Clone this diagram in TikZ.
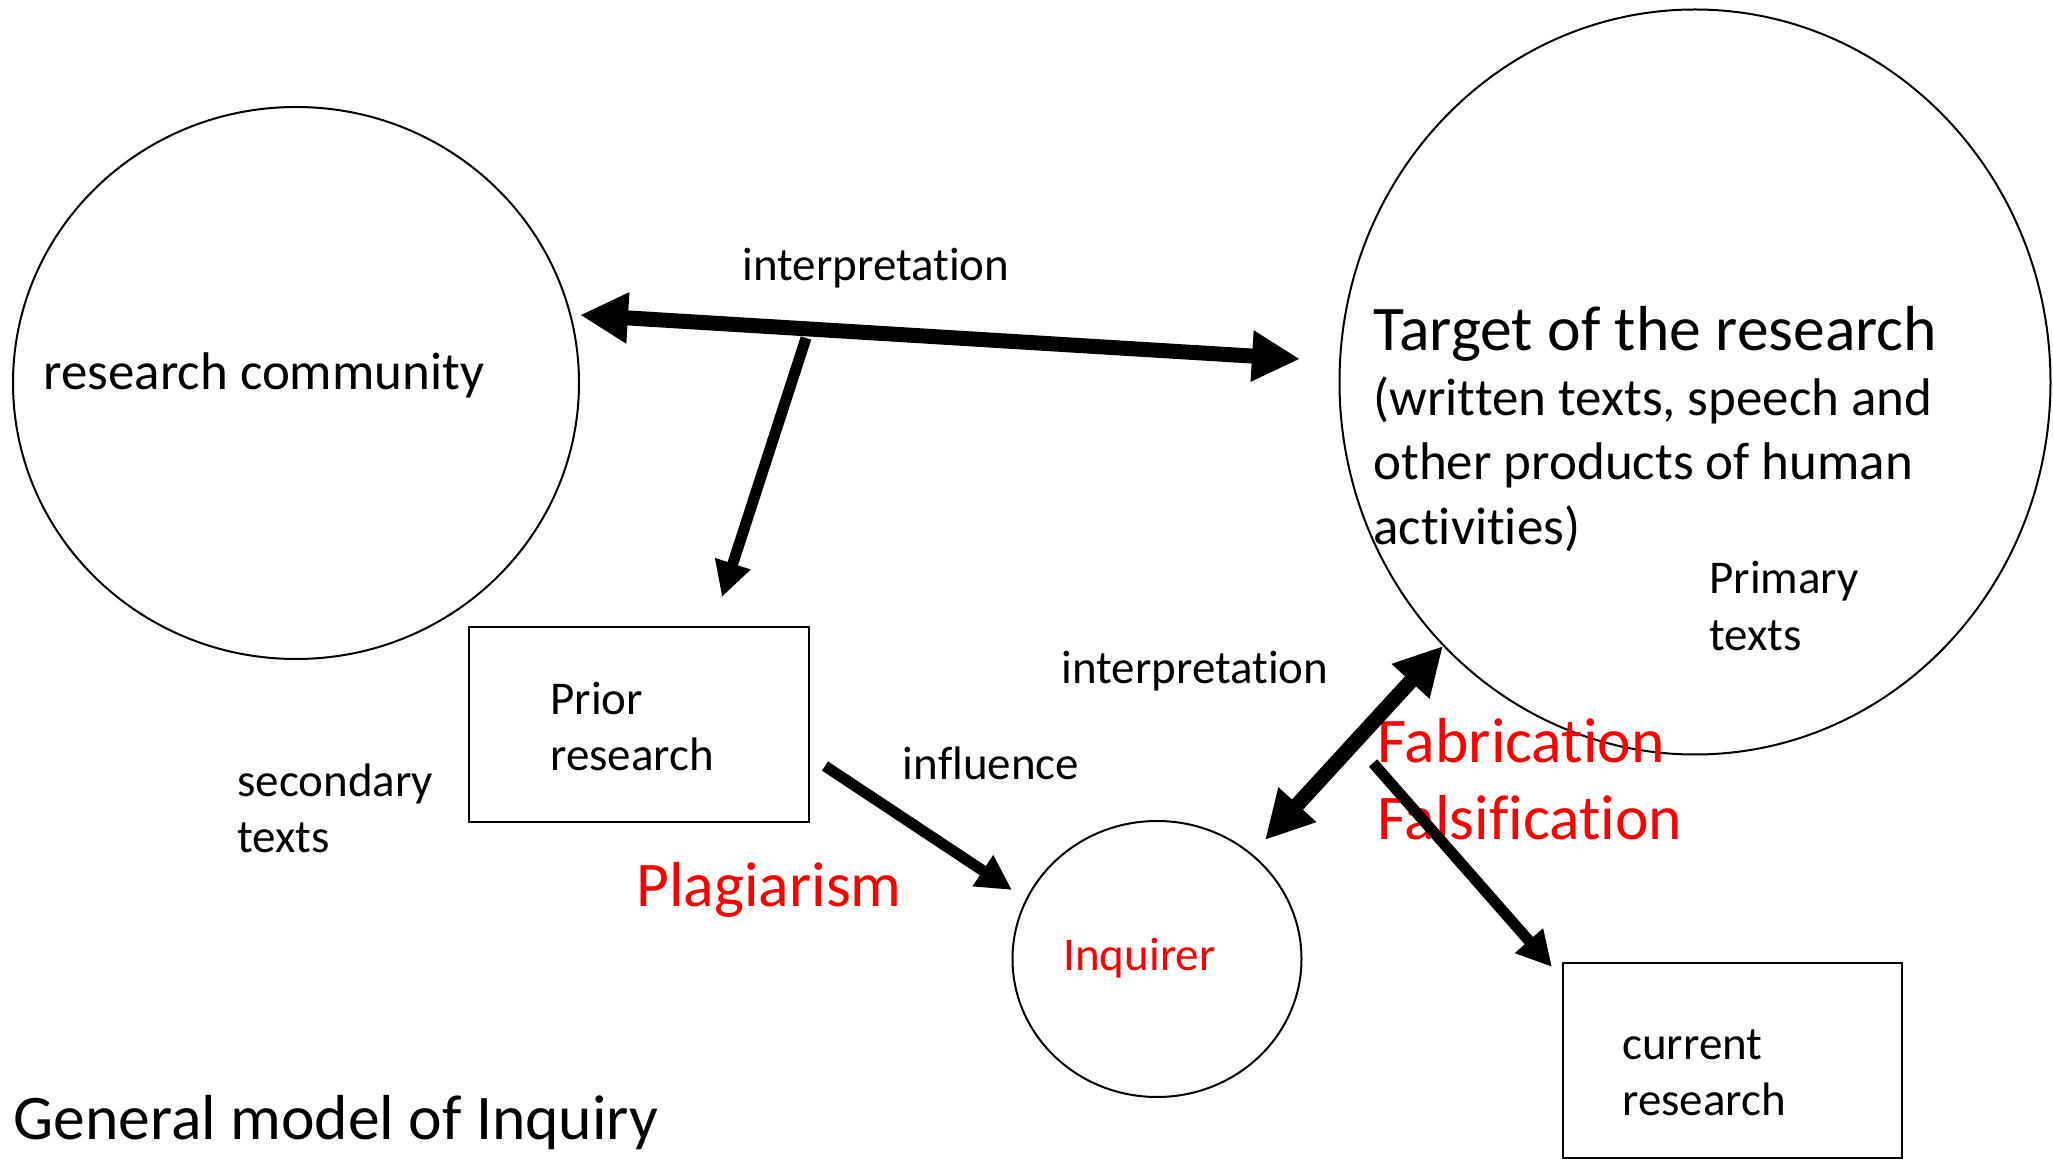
\documentclass[tikz,border=0pt]{standalone}
\usepackage{fontspec}
\setmainfont{Carlito}[Ligatures=NoCommon]
\usetikzlibrary{arrows.meta,shapes.geometric}
\begin{document}
\begin{tikzpicture}[x=0.5pt,y=-0.5pt,
  ring/.style={draw, ellipse, line width=1pt, inner sep=0pt},
  box/.style={draw, rectangle, line width=1.2pt, inner sep=0pt},
  lbl/.style={inner sep=0pt, anchor=base west},
  txtS/.style={font=\fontsize{23.5}{28}\selectfont},
  txtM/.style={font=\fontsize{26.5}{32}\selectfont},
  txtL/.style={font=\fontsize{31.8}{38}\selectfont},
  hot/.style={text=red},
  bigarrow/.style={line width=7.5pt,
    {Triangle[length=24pt,width=24pt]}-{Triangle[length=24pt,width=24pt]}},
  thinarrow/.style={line width=5.5pt, -{Triangle[length=17.5pt,width=17.5pt]}}]
\useasboundingbox (0,0) rectangle (2053,1159);

% main shapes
\node[ring, minimum width=283pt, minimum height=276pt] (community) at (296,383) {};
\node[ring, minimum width=355.5pt, minimum height=372.5pt] (target) at (1695,382) {};
\node[ring, minimum width=144.5pt, minimum height=138pt] (inquirer) at (1157,959) {};
\node[box, minimum width=170pt, minimum height=97.5pt] (prior) at (639,724.5) {};
\node[box, minimum width=169.5pt, minimum height=97.5pt] (current) at (1732.5,1060.5) {};

% texts
\node[lbl, txtM] (commtext) at (43,390) {research community};
\node[lbl, txtL] (target1) at (1373,351) {Target of the research};
\node[lbl, txtM] (target2) at (1373,416) {(written texts, speech and};
\node[lbl, txtM] (target3) at (1373,480) {other products of human};
\node[lbl, txtM] (target4) at (1373,545) {activities)};
\node[lbl, txtS] (primary1) at (1709,594) {Primary};
\node[lbl, txtS] (primary2) at (1709,651) {texts};
\node[lbl, txtS] (prior1) at (550,715) {Prior};
\node[lbl, txtS] (prior2) at (550,771) {research};
\node[lbl, txtS] (second1) at (237,797) {secondary};
\node[lbl, txtS] (second2) at (237,853) {texts};
\node[lbl, txtS] (current1) at (1622,1060) {current};
\node[lbl, txtS] (current2) at (1622,1116) {research};
\node[lbl, txtS, anchor=base] (interpTop) at (876,281) {interpretation};
\node[lbl, txtS, anchor=base] (interpMid) at (1195,684) {interpretation};
\node[lbl, txtS, anchor=base] (influence) at (991,780) {influence};
\node[lbl, txtS, hot] (inqtext) at (1063,971) {Inquirer};
\node[lbl, txtL, hot] (plag) at (636,907) {Plagiarism};
\node[lbl, txtL, hot] (fabr) at (1377,763) {Fabrication};
\node[lbl, txtL, hot] (fals) at (1377,840) {Falsification};
\node[lbl, txtL] (title) at (13,1140) {General model of Inquiry};

% arrow end points
\coordinate (commEnd) at (580,315);
\coordinate (targetEnd) at (1300,359);
\coordinate (branch) at (806,338);
\coordinate (priorEnd) at (722,597);
\coordinate (priorOut) at (825,766);
\coordinate (inqIn) at (1012,890);
\coordinate (targetLow) at (1443,646);
\coordinate (inqTop) at (1265,840);
\coordinate (targetOut) at (1373,763);
\coordinate (currentIn) at (1552,967);

% connectors
\draw[bigarrow] (commEnd) -- (targetEnd);
\draw[thinarrow] (branch) -- (priorEnd);
\draw[thinarrow] (priorOut) -- (inqIn);
\draw[bigarrow] (targetLow) -- (inqTop);
\draw[thinarrow] (targetOut) -- (currentIn);
\end{tikzpicture}
\end{document}
